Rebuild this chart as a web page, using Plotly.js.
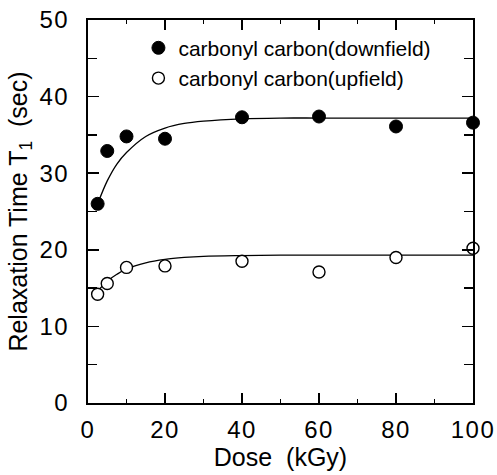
<!DOCTYPE html>
<html>
<head>
<meta charset="utf-8">
<script src="https://cdn.plot.ly/plotly-3.0.1.min.js"></script>
<style>
  html, body { margin: 0; padding: 0; background: #fff; }
  #chart { width: 497px; height: 475px; }
  /* slightly looser tracking on the tick numbers */
  #chart .xtick text, #chart .ytick text { letter-spacing: 1.5px; }
</style>
</head>
<body>
<div id="chart"></div>
<script>
// Measured T1 relaxation times of the carbonyl carbons vs. irradiation dose
const dose = [2.5, 5, 10, 20, 40, 60, 80, 100];
const downfieldT1 = [26.0, 32.9, 34.8, 34.5, 37.3, 37.4, 36.1, 36.6];
const upfieldT1 = [14.2, 15.6, 17.7, 17.9, 18.5, 17.1, 19.0, 20.2];

// Fitted saturation curves
const fitDose = [2.5, 5, 7.5, 10, 15, 20, 25, 30, 40, 50, 60, 70, 80, 90, 100];
const downfieldFit = [26.0, 29.0, 31.2, 32.7, 34.8, 35.9, 36.5, 36.8, 37.1, 37.2, 37.2, 37.2, 37.2, 37.2, 37.2];
const upfieldFit = [14.6, 15.9, 16.8, 17.5, 18.3, 18.75, 19.0, 19.15, 19.25, 19.3, 19.3, 19.3, 19.3, 19.3, 19.3];

const seriesNames = ['carbonyl carbon(downfield)', 'carbonyl carbon(upfield)'];

const FONT = 'Liberation Sans, Arial, Helvetica, sans-serif';

const traces = [
  {
    x: fitDose, y: downfieldFit, mode: 'lines', type: 'scatter',
    line: { color: '#000', width: 1.3, shape: 'spline' },
    showlegend: false, hoverinfo: 'skip'
  },
  {
    x: fitDose, y: upfieldFit, mode: 'lines', type: 'scatter',
    line: { color: '#000', width: 1.3, shape: 'spline' },
    showlegend: false, hoverinfo: 'skip'
  },
  {
    x: dose, y: downfieldT1, mode: 'markers', type: 'scatter',
    name: seriesNames[0],
    marker: { symbol: 'circle', size: 13, color: '#000', line: { color: '#000', width: 1 } },
    cliponaxis: false
  },
  {
    x: dose, y: upfieldT1, mode: 'markers', type: 'scatter',
    name: seriesNames[1],
    marker: { symbol: 'circle', size: 12, color: '#fff', line: { color: '#000', width: 1.4 } },
    cliponaxis: false
  }
];

const layout = {
  width: 497, height: 475,
  margin: { l: 88, r: 24, t: 20, b: 72 },
  paper_bgcolor: '#fff', plot_bgcolor: '#fff',
  font: { family: FONT, color: '#000', size: 21 },
  showlegend: true,
  legend: {
    x: 0.131, y: 0.98, xanchor: 'left', yanchor: 'top',
    bgcolor: 'rgba(0,0,0,0)', borderwidth: 0,
    font: { family: FONT, size: 21, color: '#000' },
    tracegroupgap: 0, itemwidth: 30
  },
  xaxis: {
    range: [0, 100], dtick: 20, tick0: 0,
    ticks: 'inside', ticklen: 10, tickwidth: 1.5, tickcolor: '#000',
    minor: { dtick: 10, ticks: 'inside', ticklen: 4, tickwidth: 1.5, tickcolor: '#000' },
    showline: true, linecolor: '#000', linewidth: 2, mirror: 'allticks',
    showgrid: false, zeroline: false,
    tickfont: { family: FONT, size: 24, color: '#000' },
    ticklabelstandoff: 4,
    title: { text: 'Dose\u00a0\u00a0(kGy)', font: { family: FONT, size: 25, color: '#000' }, standoff: 3 }
  },
  yaxis: {
    range: [0, 50], dtick: 10, tick0: 0,
    ticks: 'inside', ticklen: 11, tickwidth: 1.5, tickcolor: '#000',
    minor: { dtick: 5, ticks: 'inside', ticklen: 9, tickwidth: 1.5, tickcolor: '#000' },
    showline: true, linecolor: '#000', linewidth: 2, mirror: 'allticks',
    showgrid: false, zeroline: false,
    tickfont: { family: FONT, size: 24, color: '#000' },
    ticklabelstandoff: 12,
    title: { text: 'Relaxation Time T<sub>1</sub>\u00a0\u00a0(sec)', font: { family: FONT, size: 25, color: '#000' }, standoff: 8 }
  }
};

Plotly.newPlot('chart', traces, layout, { displayModeBar: false, staticPlot: true });
</script>
</body>
</html>
